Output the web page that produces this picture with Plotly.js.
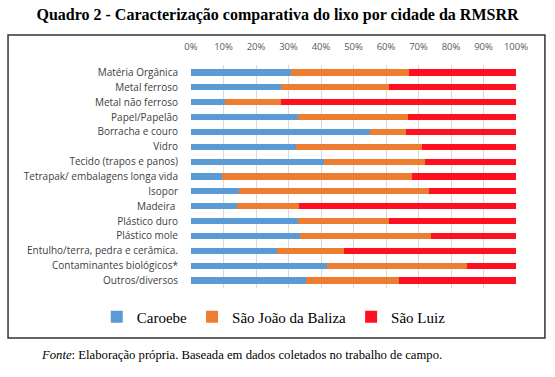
<!DOCTYPE html>
<html>
<head>
<meta charset="utf-8">
<script src="https://cdn.plot.ly/plotly-3.0.1.min.js"></script>
<style>html,body{margin:0;padding:0;background:#fff;}#chart{width:555px;height:377px;}</style>
</head>
<body>
<div id="chart"></div>
<script>
var categories = ["Matéria Orgânica","Metal ferroso","Metal não ferroso","Papel/Papelão","Borracha e couro","Vidro","Tecido (trapos e panos)","Tetrapak/ embalagens longa vida","Isopor","Madeira ","Plástico duro","Plástico mole","Entulho/terra, pedra e cerâmica.","Contaminantes biológicos*","Outros/diversos"];
var caroebe = [30.8, 27.7, 10.5, 32.8, 55.1, 32.2, 40.8, 9.4, 14.9, 14.2, 32.8, 33.5, 26.4, 41.9, 35.3];
var saoJoao = [36.4, 33.2, 17.2, 34.0, 11.1, 38.9, 31.2, 58.6, 58.2, 19.0, 28.1, 40.3, 20.7, 43.0, 28.7];
var saoLuiz = [32.8, 39.1, 72.3, 33.2, 33.8, 28.9, 28.0, 32.0, 26.9, 66.8, 39.1, 26.2, 52.9, 15.1, 36.0];
var seriesNames = ["Caroebe","São João da Baliza","São Luiz"];
var colors = ["#5B9BD5","#ED7D31","#FF1020"];
var tickVals = [0,10,20,30,40,50,60,70,80,90,100];

var data = [caroebe, saoJoao, saoLuiz].map(function(v,i){
  return {type:'bar', orientation:'h', y:categories, x:v, name:seriesNames[i],
          marker:{color:colors[i], line:{width:0}}, hoverinfo:'x+y'};
});

var layout = {
  width:555, height:377,
  margin:{l:191, r:39, t:65, b:89},
  barmode:'stack', bargap:0.58,
  paper_bgcolor:'#fff', plot_bgcolor:'#fff',
  showlegend:true,
  title:{text:'<b>Quadro 2 - Caracterização comparativa do lixo por cidade da RMSRR</b>',
         font:{family:'Liberation Serif, Times New Roman, serif', size:16, color:'#000'},
         x:0.5, xanchor:'center', y:0.962, yanchor:'middle'},
  xaxis:{side:'top', range:[0,100], tickvals:tickVals, ticktext:tickVals.map(function(t){return t+'%';}),
         showgrid:true, gridcolor:'#D9D9D9', gridwidth:1, zeroline:false, showline:false,
         ticks:'outside', ticklen:10, tickcolor:'rgba(0,0,0,0)',
         tickfont:{family:'Open Sans, Liberation Sans, sans-serif', size:9.5, color:'#595959'}, fixedrange:true},
  yaxis:{autorange:'reversed', showgrid:false, zeroline:false, showline:false,
         ticks:'outside', ticklen:10, tickcolor:'rgba(0,0,0,0)',
         tickfont:{family:'Open Sans, Liberation Sans, sans-serif', size:10, color:'#404040'}, fixedrange:true},
  legend:{orientation:'h', x:-0.29, xanchor:'left', y:-0.13, yanchor:'middle',
          font:{family:'Liberation Serif, Times New Roman, serif', size:15, color:'#000'},
          itemwidth:30, traceorder:'normal', bgcolor:'rgba(0,0,0,0)'},
  shapes:[{type:'rect', xref:'paper', yref:'paper', x0:-0.563, x1:1.089, y0:-0.224, y1:1.1345,
           line:{color:'#333', width:1.5}, fillcolor:'rgba(0,0,0,0)', layer:'below'}],
  annotations:[{xref:'paper', yref:'paper', x:-0.4677, y:-0.300, xanchor:'left', yanchor:'middle',
                showarrow:false, text:'<i>Fonte</i>: Elaboração própria. Baseada em dados coletados no trabalho de campo.',
                font:{family:'Liberation Serif, Times New Roman, serif', size:12.7, color:'#000'}}]
};
Plotly.newPlot('chart', data, layout, {displayModeBar:false, staticPlot:true});
</script>
</body>
</html>
